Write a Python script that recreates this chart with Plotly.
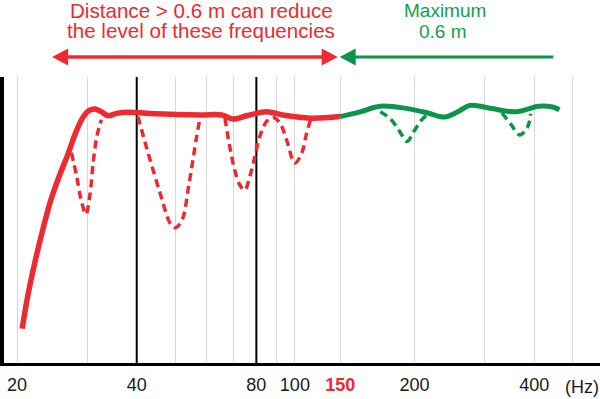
import math
import plotly.graph_objects as go

# ---------------- data (frequency in Hz, level in dB relative) ----------------
RED_HZ = [20.6, 21.3, 22.2, 23.25, 24.4, 25.6, 26.9, 27.94, 29.05, 30.2, 31.4, 32.6,
          33.9, 35.6, 38.4, 43.2, 57.7, 65.4, 69.8, 75.6, 84.9, 93.3, 109.1, 130]
RED_DB = [-26.7, -22.5, -18.3, -14.2, -10.4, -7.5, -4.8, -2.5, -0.6, 0.5, 0.75, 0.4,
          -0.1, 0.2, 0.35, 0.2, 0.0, 0.0, -0.5, -0.1, 0.4, 0.0, -0.4, -0.2]

GREEN_HZ = [130, 146, 164, 192, 216, 238, 257, 276, 313, 359, 411, 445, 463]
GREEN_DB = [-0.2, 0.4, 1.1, 0.8, 0.25, -0.25, 0.4, 1.2, 0.8, 0.4, 1.1, 1.0, 0.65]

RED_DIP_HZ = [27.4, 28.2, 29.05, 29.8, 30.5, 31.1, 31.8, 32.6, None,
              40.3, 42.3, 45.7, 48.5, 49.9, 51.9, 54.1, 56.6, 57.8, None,
              66.7, 68.6, 70.6, 72.7, 74.8, 77.0, 79.3, 81.6, 84.9, 88.2, 91.7,
              95.3, 100, 104, 107, 109.5]
RED_DIP_DB = [-4.7, -7.5, -10.8, -12.4, -10.0, -5.8, -2.5, -0.6, None,
              -0.2, -4.0, -9.6, -13.5, -14.1, -13.25, -8.75, -2.7, -0.25, None,
              -0.4, -4.0, -6.9, -8.75, -9.4, -7.7, -5.2, -2.7, -0.8, -0.3, -1.0,
              -3.1, -6.0, -4.8, -2.3, -0.6]

GREEN_DIP_HZ = [164, 174, 183, 191.4, 199.8, 207.7, 214, None,
                332, 349, 368, 385, 392]
GREEN_DIP_DB = [0.4, -0.5, -1.95, -3.3, -1.95, -0.7, -0.05, None,
                0.25, -1.1, -2.5, -1.5, 0.15]

GRID_HZ = [20, 30, 40, 50, 60, 70, 80, 90, 100, 130, 200, 300, 400, 500]
GRID_LABELS = ["20", "", "40", "", "", "", "80", "", "100", "150", "200", "", "400", ""]
BLACK_HZ = [40, 80]
CROSSOVER_HZ = 130          # the "150" mark
RED_ARROW_FROM_HZ = 24.5
GREEN_ARROW_TO_HZ = 447

RED = "#ec2a2f"
GREEN = "#0b9548"
GREEN_TXT = "#12a04c"
FONT = "Liberation Sans, Arial, sans-serif"

W, H = 600, 399
ML, MR, MT, MB = 4, 0, 77, 36
X_RANGE = [math.log10(18.54), math.log10(585.8)]
Y_RANGE = [-31.0, 4.75]
PW, PH = W - ML - MR, H - MT - MB


def hz_to_paper(f):
    return (math.log10(f) - X_RANGE[0]) / (X_RANGE[1] - X_RANGE[0])


def px_to_paper_x(px):
    return (px - ML) / PW


def py_to_paper_y(py):
    return (H - MB - py) / PH


labels = []
for lab in GRID_LABELS:
    if lab == "150":
        labels.append(f"<span style='color:{RED}'><b>150</b></span>")
    else:
        labels.append(lab)

fig = go.Figure()
# black reference lines at 40 Hz and 80 Hz (drawn first, under the curves)
for f in BLACK_HZ:
    fig.add_trace(go.Scatter(x=[f, f], y=Y_RANGE, mode="lines", cliponaxis=False,
                             line=dict(color="black", width=2), hoverinfo="skip"))
fig.add_trace(go.Scatter(x=RED_DIP_HZ, y=RED_DIP_DB, mode="lines", connectgaps=False,
                         line=dict(color=RED, width=3.5, dash="8px,5px", shape="spline"),
                         hoverinfo="skip"))
fig.add_trace(go.Scatter(x=GREEN_DIP_HZ, y=GREEN_DIP_DB, mode="lines", connectgaps=False,
                         line=dict(color=GREEN, width=3.5, dash="8px,5px", shape="spline"),
                         hoverinfo="skip"))
fig.add_trace(go.Scatter(x=RED_HZ, y=RED_DB, mode="lines",
                         line=dict(color=RED, width=5.5, shape="spline"), hoverinfo="skip"))
fig.add_trace(go.Scatter(x=GREEN_HZ, y=GREEN_DB, mode="lines",
                         line=dict(color=GREEN, width=5, shape="spline"), hoverinfo="skip"))

shapes = []
# arrows
ay = py_to_paper_y(57)
hh = 8.5 / PH
x_cross = hz_to_paper(CROSSOVER_HZ)
hl = 16 / PW
# red double arrow
rl = hz_to_paper(RED_ARROW_FROM_HZ)
rr = x_cross - 2.5 / PW
shapes.append(dict(type="line", xref="paper", yref="paper", x0=rl + hl * 0.8, x1=rr - hl * 0.8,
                   y0=ay, y1=ay, line=dict(color=RED, width=3.3)))
shapes.append(dict(type="path", xref="paper", yref="paper",
                   path=f"M {rl} {ay} L {rl + hl} {ay + hh} L {rl + hl} {ay - hh} Z",
                   fillcolor=RED, line=dict(width=0)))
shapes.append(dict(type="path", xref="paper", yref="paper",
                   path=f"M {rr} {ay} L {rr - hl} {ay + hh} L {rr - hl} {ay - hh} Z",
                   fillcolor=RED, line=dict(width=0)))
# green arrow
gl = x_cross - 0.5 / PW
gr = hz_to_paper(GREEN_ARROW_TO_HZ)
shapes.append(dict(type="line", xref="paper", yref="paper", x0=gl + hl * 0.8, x1=gr,
                   y0=ay, y1=ay, line=dict(color=GREEN, width=3)))
shapes.append(dict(type="path", xref="paper", yref="paper",
                   path=f"M {gl} {ay} L {gl + hl} {ay + hh} L {gl + hl} {ay - hh} Z",
                   fillcolor=GREEN, line=dict(width=0)))

annotations = [
    dict(text="Distance > 0.6 m can reduce", x=px_to_paper_x(201), y=py_to_paper_y(10),
         xref="paper", yref="paper", showarrow=False, xanchor="center", yanchor="middle",
         font=dict(family=FONT, size=20.6, color=RED)),
    dict(text="the level of these frequencies", x=px_to_paper_x(201), y=py_to_paper_y(30.5),
         xref="paper", yref="paper", showarrow=False, xanchor="center", yanchor="middle",
         font=dict(family=FONT, size=20.6, color=RED)),
    dict(text="Maximum", x=px_to_paper_x(445), y=py_to_paper_y(10.5),
         xref="paper", yref="paper", showarrow=False, xanchor="center", yanchor="middle",
         font=dict(family=FONT, size=19, color=GREEN_TXT)),
    dict(text="0.6 m", x=px_to_paper_x(443), y=py_to_paper_y(31.5),
         xref="paper", yref="paper", showarrow=False, xanchor="center", yanchor="middle",
         font=dict(family=FONT, size=19, color=GREEN_TXT)),
    dict(text="(Hz)", x=px_to_paper_x(582), y=py_to_paper_y(387),
         xref="paper", yref="paper", showarrow=False, xanchor="center", yanchor="middle",
         font=dict(family=FONT, size=18, color="#1a1a1a")),
]

fig.update_layout(
    width=W, height=H,
    margin=dict(l=ML, r=MR, t=MT, b=MB, pad=0, autoexpand=False),
    paper_bgcolor="white", plot_bgcolor="white",
    showlegend=False,
    shapes=shapes, annotations=annotations,
    xaxis=dict(type="log", range=X_RANGE, tickmode="array", tickvals=GRID_HZ,
               ticktext=labels, showgrid=True, gridcolor="#d6d6d6", gridwidth=1,
               showline=True, linecolor="black", linewidth=3, ticks="",
               ticklabelstandoff=3,
               tickfont=dict(family=FONT, size=18, color="#1a1a1a"),
               zeroline=False, fixedrange=True, automargin=False),
    yaxis=dict(range=Y_RANGE, showgrid=False, showticklabels=False, ticks="",
               showline=True, linecolor="black", linewidth=4, zeroline=False,
               fixedrange=True, automargin=False),
)

fig.write_html("out.html", config={"displayModeBar": False},
               post_script="document.body.style.margin='0';document.body.style.overflow='hidden';")
